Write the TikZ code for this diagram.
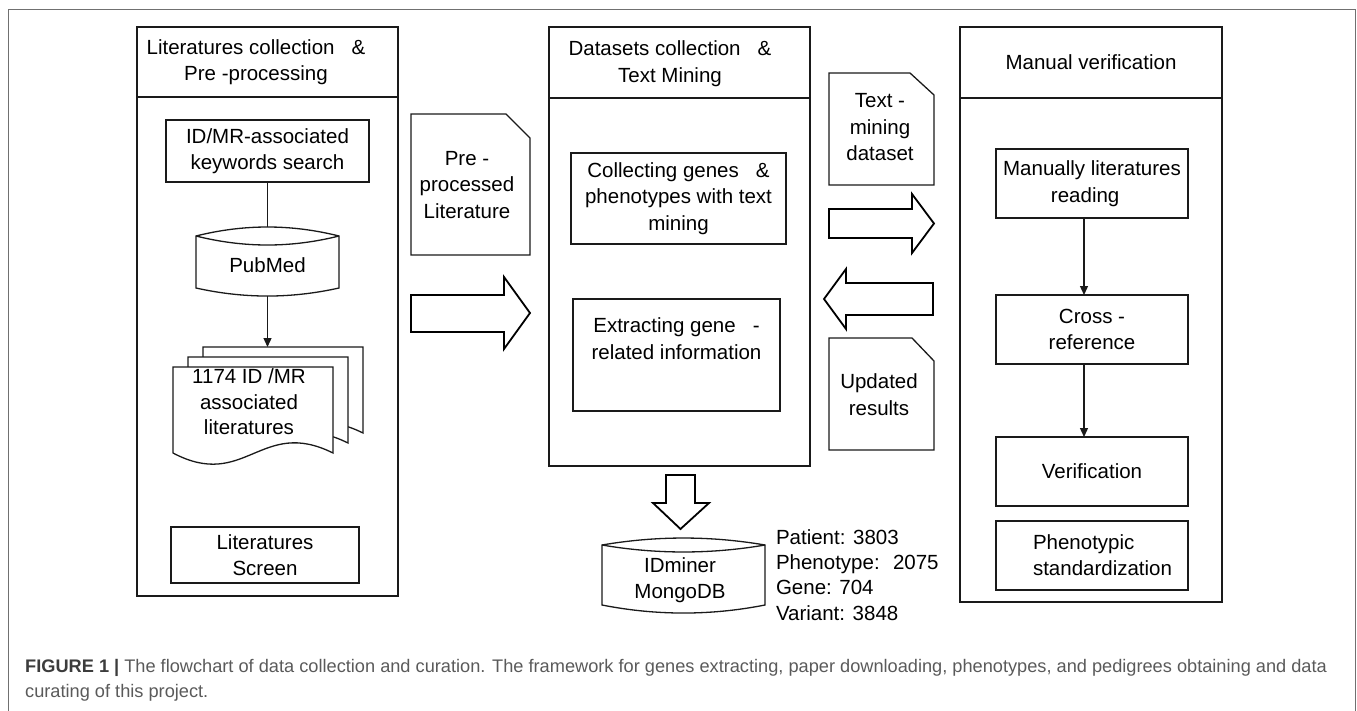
\documentclass[tikz,border=0pt]{standalone}
\usepackage{fontspec}
\setmainfont{Liberation Sans}
\usetikzlibrary{arrows.meta,calc}
\definecolor{ln}{HTML}{1A1A1A}
\definecolor{framec}{HTML}{707070}
\definecolor{capc}{HTML}{5A5A5A}
\definecolor{capb}{HTML}{3C3C3C}
\newcommand\dtxt{\fontsize{20.5}{26.5}\selectfont}
\newcommand\ctxt{\fontsize{18.2}{25}\selectfont}
\begin{document}
\begin{tikzpicture}[x=1pt,y=-1pt,line join=miter,
  lw/.style={line width=1.3pt,draw=ln},
  panel/.style={lw,fill=white,inner sep=0pt,outer sep=0pt},
  box/.style={lw,fill=white,inner sep=0pt,outer sep=0pt,align=center,font=\dtxt},
  txt/.style={inner sep=0pt,outer sep=0pt,align=center,font=\dtxt},
  blockarrow/.style={line width=1.8pt,draw=black,fill=white,line join=miter},
  conn/.style={lw,-{Triangle[width=8pt,length=9pt]}}]
\useasboundingbox (0,0) rectangle (1357,710);
% outer frame
\draw[framec,line width=1pt] (8,712) -- (8,9) -- (1355,9) -- (1355,712);

% ---------- left panel ----------
\node[panel,minimum width=261pt,minimum height=569pt] (lp) at (267.5,311.5) {};
\draw[lw] (137,97) -- (398,97);
\node[txt] (lph) at (256,62) {Literatures collection \ \ \&\\Pre -processing};
\node[box,minimum width=203pt,minimum height=62pt] (idmr) at (267.5,151) {ID/MR-associated\\keywords search};
% PubMed cylinder
\draw[lw,fill=white] (196,236) .. controls (244,224) and (291,224) .. (339,236) -- (339,288)
   .. controls (291,298.7) and (244,298.7) .. (196,288) -- cycle;
\draw[lw] (196,236) .. controls (244,248) and (291,248) .. (339,236);
\node[txt] (pubmed) at (267.5,265) {PubMed};
\coordinate (pubtop) at (267.5,227);
\coordinate (pubbot) at (267.5,296);
% multi document
\foreach \X/\Y in {203/347,188/357,173/367}{
  \draw[lw,fill=white] (\X,\Y) -- (\X+160,\Y) -- (\X+160,\Y+86)
     .. controls (\X+88,\Y+50) and (\X+72,\Y+124) .. (\X,\Y+86) -- cycle;
}
\coordinate (docstop) at (267.5,347);
\node[txt,font=\fontsize{20.5}{25.5}\selectfont] (docs) at (249,402) {1174 ID /MR\\associated\\literatures};
\node[box,minimum width=188pt,minimum height=56pt] (screen) at (265,555) {Literatures\\Screen};
\draw[lw] (idmr.south) -- (pubtop);
\draw[conn] (pubbot) -- (docstop);

% ---------- pre-processed document and arrow ----------
\draw[lw,fill=white] (411,114) -- (506,114) -- (530,138) -- (530,255) -- (411,255) -- cycle;
\node[txt] (pre) at (467,185) {Pre -\\processed\\Literature};
\draw[blockarrow] (411,295) -- (504,295) -- (504,277) -- (530,313) -- (504,349) -- (504,332) -- (411,332) -- cycle;

% ---------- middle panel ----------
\node[panel,minimum width=261pt,minimum height=439pt] (mp) at (679.5,246.5) {};
\draw[lw] (549,98) -- (810,98);
\node[txt] (mph) at (670,63.5) {Datasets collection \ \ \&\\Text Mining};
\node[box,minimum width=215pt,minimum height=91pt] (coll) at (678.5,198.5) {Collecting genes \ \ \&\\phenotypes with text\\mining};
\node[box,minimum width=207pt,minimum height=112pt] (extr) at (676.5,355) {Extracting gene \ \ -\\related information\\[6pt]};
% down arrow
\draw[blockarrow] (666,475) -- (695,475) -- (695,503) -- (709,503) -- (680.5,529) -- (653,503) -- (666,503) -- cycle;
% IDminer cylinder
\draw[lw,fill=white] (602,545) .. controls (656.3,535.7) and (710.7,535.7) .. (765,545) -- (765,605)
   .. controls (710.7,615.7) and (656.3,615.7) .. (602,605) -- cycle;
\draw[lw] (602,545) .. controls (656.3,554.3) and (710.7,554.3) .. (765,545);
\node[txt] (idminer) at (680,580) {IDminer\\MongoDB};
\node[txt,align=left,anchor=west,font=\fontsize{20.5}{25.3}\selectfont] (stats) at (776,575)
  {Patient: 3803\\Phenotype: \ 2075\\Gene: 704\\Variant: 3848};

% ---------- right documents & arrows ----------
\draw[lw,fill=white] (829,73) -- (910,73) -- (934,95) -- (934,185) -- (829,185) -- cycle;
\node[txt] (tmd) at (880,127.5) {Text -\\mining\\dataset};
\draw[blockarrow] (829,209) -- (912,209) -- (912,194) -- (934,223.5) -- (912,253) -- (912,238) -- (829,238) -- cycle;
\draw[blockarrow] (933,283) -- (846,283) -- (846,269) -- (824,299) -- (846,329) -- (846,315) -- (933,315) -- cycle;
\draw[lw,fill=white] (829,338) -- (912,338) -- (934,361) -- (934,450) -- (829,450) -- cycle;
\node[txt] (upd) at (879,394.5) {Updated\\results};

% ---------- right panel ----------
\node[panel,minimum width=262pt,minimum height=575pt] (rp) at (1091,314.5) {};
\draw[lw] (960,98) -- (1222,98);
\node[txt] (rph) at (1091,62) {Manual verification};
\node[box,minimum width=192pt,minimum height=69pt] (man) at (1092,183.5) {Manually literatures\\reading\,\,\,\,};
\node[box,minimum width=192pt,minimum height=69pt] (cross) at (1092,329.5) {Cross -\\reference};
\node[box,minimum width=192pt,minimum height=69pt] (verif) at (1092,471.5) {Verification};
\node[box,minimum width=192pt,minimum height=69pt] (pheno) at (1092,555.5) {};
\node[txt,align=left,anchor=west] (phenot) at (1033,555) {Phenotypic\\standardization};
\draw[conn] (man.south -| 1084,0) -- (cross.north -| 1084,0);
\draw[conn] (cross.south -| 1084,0) -- (verif.north -| 1084,0);

% ---------- caption ----------
\node[inner sep=0pt,anchor=west,font=\ctxt,text=capc] (cap1) at (25,668)
  {{\bfseries\color{capb}FIGURE 1 |} The flowchart of data collection and curation. The framework for genes extracting, paper downloading, phenotypes, and pedigrees obtaining and data};
\node[inner sep=0pt,anchor=west,font=\ctxt,text=capc] (cap2) at (25,693) {curating of this project.};
\end{tikzpicture}
\end{document}
